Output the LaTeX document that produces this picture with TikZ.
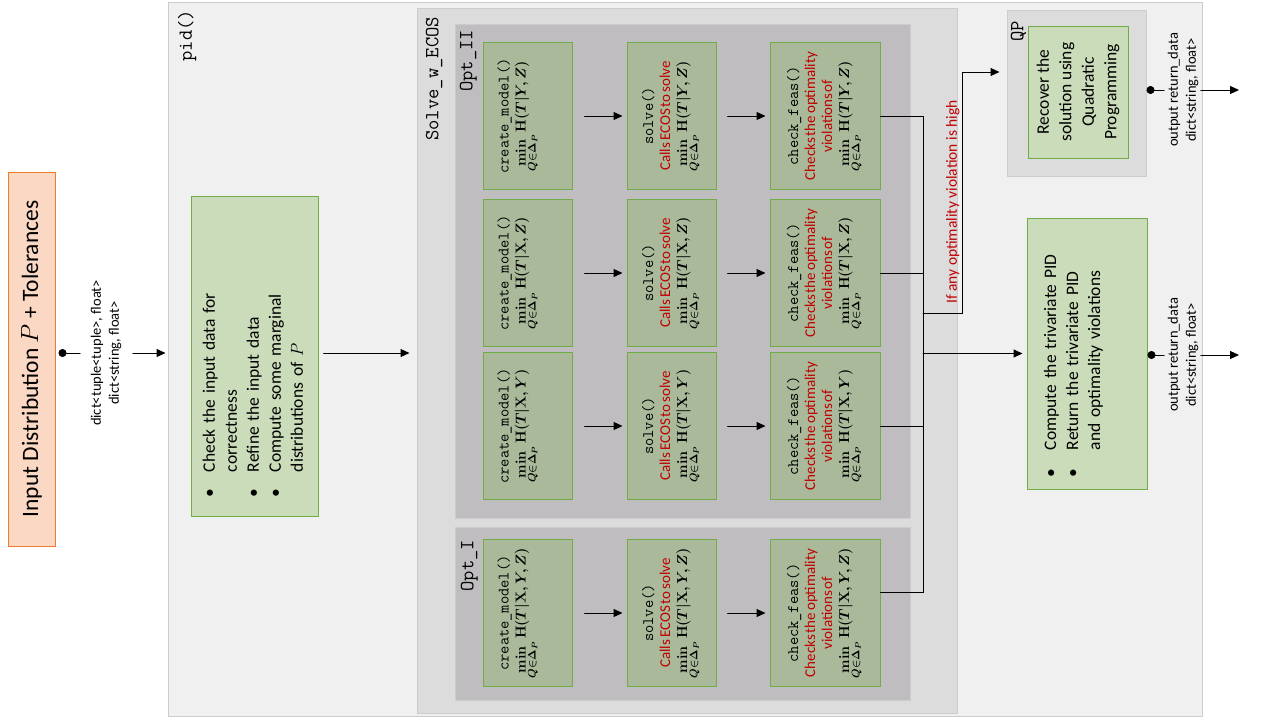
\documentclass[tikz,border=0pt]{standalone}
\usepackage{amsmath,amssymb}
\usepackage[no-math]{fontspec}
\setmainfont{Carlito}
\usepackage{tikz}
\usetikzlibrary{arrows.meta}
\usepackage{xcolor}

\definecolor{peach}{HTML}{FAD8C3}
\definecolor{sunsetorange}{HTML}{ED7D31}
\definecolor{leafgreen}{HTML}{70AD47}
\definecolor{palegreen}{HTML}{CADCB9}
\definecolor{sagegreen}{HTML}{A9B99A}
\definecolor{pidgray}{HTML}{F0F0F0}
\definecolor{ecosgray}{HTML}{DCDCDC}
\definecolor{optgray}{HTML}{BFBDBF}
\definecolor{rimgray}{HTML}{CCCCCC}
\definecolor{alertred}{HTML}{C00000}

\newcommand{\fnlabel}[1]{{\fontsize{16}{18}\selectfont\ttfamily #1}}
\newcommand{\objective}[1]{{\fontsize{15.5}{18}\selectfont\boldmath$\displaystyle\min_{Q\in\Delta_P}\mathrm{H}(T|#1)$}}
\newcommand{\warn}[1]{{\spaceskip=0.12em\textcolor{alertred}{#1}}}

\begin{document}
\begin{tikzpicture}[x=1pt,y=-1pt,>={Triangle[length=9pt,width=8pt]},line width=1pt,line cap=round,
  cont/.style={draw=rimgray,inner sep=0pt},
  tag/.style={rotate=90,inner sep=1pt,font=\fontsize{20}{22}\selectfont\ttfamily},
  pane/.style={rotate=90,draw=leafgreen,fill=palegreen,inner sep=0pt,font=\fontsize{17.5}{22}\selectfont},
  call/.style={rotate=90,draw=leafgreen,fill=sagegreen,align=center,minimum width=147pt,inner sep=2pt,font=\fontsize{15}{17}\selectfont},
  io/.style={rotate=90,align=center,inner sep=2pt,font=\fontsize{14.5}{18}\selectfont},
  tap/.style={{Circle[length=8pt]}-}]
\useasboundingbox (0,0) rectangle (1280,720);

% containers
\node[cont,fill=pidgray,minimum width=1034pt,minimum height=714pt] (pid) at (685,359) {};
\node[cont,fill=ecosgray,minimum width=540pt,minimum height=705pt] (ecos) at (687,360.5) {};
\node[cont,fill=optgray,minimum width=455pt,minimum height=494pt] (optii) at (682.5,271) {};
\node[cont,fill=optgray,minimum width=455pt,minimum height=173pt] (opti) at (682.5,613.5) {};
\node[cont,fill=ecosgray,minimum width=139pt,minimum height=166pt] (qp) at (1076.5,93) {};
\node[tag,anchor=north east] at ([shift={(9,7)}]pid.north west) {pid()};
\node[tag,anchor=north east] at ([shift={(8,8)}]ecos.north west) {Solve\_w\_ECOS};
\node[tag,anchor=north east] at ([shift={(4,5)}]optii.north west) {Opt\_II};
\node[tag,anchor=north east] at ([shift={(5,12)}]opti.north west) {Opt\_I};
\node[tag,anchor=north east] at ([shift={(3,10)}]qp.north west) {QP};

% input
\node[rotate=90,draw=sunsetorange,fill=peach,minimum width=374pt,minimum height=47pt,
  font=\fontsize{23.5}{28}\selectfont] (inp) at (31.5,359) {Input Distribution $P$ + Tolerances};
\node[io] (inlbl) at (106,353) {dict<tuple<tuple>, float>\\dict<string, float>};

\node[pane,minimum width=320pt,minimum height=127pt,text width=282pt,align=left] (chkin) at (254.5,356)
  {\begin{tabular}{@{}p{25pt}@{}l@{}}
  \textbullet & Check the input data for\\
   & correctness\\
  \textbullet & Refine the input data\\
  \textbullet & Compute some marginal\\
   & distributions of $P$
  \end{tabular}};

% Opt_II rows
\node[call,minimum height=89pt] (mdl1) at (527.5,116) {\fnlabel{create\_model()}\\\objective{Y,Z}\rule[-32pt]{0pt}{32pt}};
\node[call,minimum height=89pt] (slv1) at (671.5,116) {\fnlabel{solve()}\\\warn{Calls ECOS to solve}\\\objective{Y,Z}};
\node[call,minimum height=110pt] (chk1) at (825,116) {\fnlabel{check\_feas()}\\\warn{Checks the optimality}\\\warn{violations of}\\\objective{Y,Z}};

\node[call,minimum height=89pt] (mdl2) at (527.5,273) {\fnlabel{create\_model()}\\\objective{\mathrm{X},Z}\rule[-32pt]{0pt}{32pt}};
\node[call,minimum height=89pt] (slv2) at (671.5,273) {\fnlabel{solve()}\\\warn{Calls ECOS to solve}\\\objective{\mathrm{X},Z}};
\node[call,minimum height=110pt] (chk2) at (825,273) {\fnlabel{check\_feas()}\\\warn{Checks the optimality}\\\warn{violations of}\\\objective{\mathrm{X},Z}};

\node[call,minimum height=89pt] (mdl3) at (527.5,426) {\fnlabel{create\_model()}\\\objective{\mathrm{X},Y}\rule[-32pt]{0pt}{32pt}};
\node[call,minimum height=89pt] (slv3) at (671.5,426) {\fnlabel{solve()}\\\warn{Calls ECOS to solve}\\\objective{\mathrm{X},Y}};
\node[call,minimum height=110pt] (chk3) at (825,426) {\fnlabel{check\_feas()}\\\warn{Checks the optimality}\\\warn{violations of}\\\objective{\mathrm{X},Y}};

% Opt_I row
\node[call,minimum height=89pt] (mdl4) at (527.5,613) {\fnlabel{create\_model()}\\\objective{\mathrm{X},Y,Z}\rule[-32pt]{0pt}{32pt}};
\node[call,minimum height=89pt] (slv4) at (671.5,613) {\fnlabel{solve()}\\\warn{Calls ECOS to solve}\\\objective{\mathrm{X},Y,Z}};
\node[call,minimum height=110pt] (chk4) at (825,613) {\fnlabel{check\_feas()}\\\warn{Checks the optimality}\\\warn{violations of}\\\objective{\mathrm{X},Y,Z}};

% results
\node[pane,minimum width=132pt,minimum height=100pt,align=center,font=\fontsize{17.5}{22.5}\selectfont] (recov) at (1078,92)
  {Recover the\\solution using\\Quadratic\\Programming};
\node[pane,minimum width=271pt,minimum height=120pt,text width=247pt,align=left] (triv) at (1087,353.5)
  {\begin{tabular}{@{}p{27pt}@{}l@{}}
  \textbullet & Compute the trivariate PID\\
  \textbullet & Return the trivariate PID\\
   & and optimality violations\rule[-33pt]{0pt}{33pt}
  \end{tabular}};
\node[io] (outa) at (1183,90) {output return\_data\\dict<string, float>};
\node[io] (outb) at (1183,355) {output return\_data\\dict<string, float>};
\coordinate (exita) at (1239,90);
\coordinate (exitb) at (1239,355);

% connectors
\draw[tap,shorten <=3pt,shorten >=8pt] (inp.south |- inlbl) -- (inlbl.north);
\draw[->,shorten <=9pt,shorten >=2pt] (inlbl.south) -- (pid.west |- inlbl);
\draw[->,shorten <=5pt,shorten >=7pt] (chkin.south |- inlbl) -- (ecos.west |- inlbl);
\foreach \r in {1,2,3,4}{
  \draw[->,shorten <=12pt,shorten >=4pt] (mdl\r.south) -- (slv\r.north);
  \draw[->,shorten <=11pt,shorten >=4pt] (slv\r.south) -- (chk\r.north);
}
\coordinate (bus) at (923,0);
\coordinate (fork) at (923,313);
\coordinate (tail4) at ([yshift=21pt]chk4.south);
\coordinate (qpin) at ([yshift=21pt]qp.west);
\draw (chk1.south) -- (chk1.south -| bus) -- (bus |- tail4) -- (tail4);
\draw (chk2.south) -- (chk2.south -| bus);
\draw (chk3.south) -- (chk3.south -| bus);
\draw[->,shorten >=7pt] (fork) -- ++(39,0) |- (qpin);
\node[rotate=90,anchor=south,inner sep=1pt,text=alertred,font=\fontsize{15.5}{18}\selectfont] (hint) at (961,202)
  {If any optimality violation is high};
\draw[->,shorten >=4pt] (bus |- triv.north) -- (triv.north);
\draw[tap,shorten >=1pt] (qp.east |- outa) -- (outa.north);
\draw[->] (outa.south) -- (exita);
\draw[tap,shorten >=1pt] (triv.south |- outb) -- (outb.north);
\draw[->] (outb.south) -- (exitb);
\end{tikzpicture}
\end{document}
